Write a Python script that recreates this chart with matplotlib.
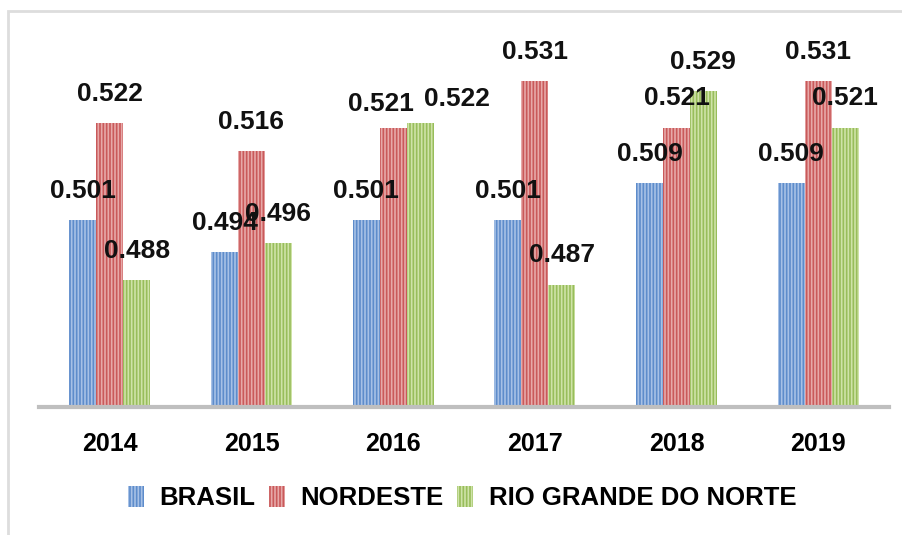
import matplotlib
matplotlib.use("Agg")
import matplotlib.pyplot as plt
import numpy as np
from matplotlib.patches import Rectangle

years = ["2014", "2015", "2016", "2017", "2018", "2019"]
brasil = [0.501, 0.494, 0.501, 0.501, 0.509, 0.509]
nordeste = [0.522, 0.516, 0.521, 0.531, 0.521, 0.531]
rn = [0.488, 0.496, 0.522, 0.487, 0.529, 0.521]
series_names = ["BRASIL", "NORDESTE", "RIO GRANDE DO NORTE"]

plt.rcParams['font.family'] = ['Liberation Sans', 'DejaVu Sans']
plt.rcParams['hatch.linewidth'] = 1.2

fig = plt.figure(figsize=(9.03, 5.35), dpi=100)
ax = fig.add_axes([39/903, 1-407/535, (889-39)/903, (407-20)/535])

base = 0.4605
x = np.arange(len(years))
w = 0.19
faces = ["#5d8ccb", "#c9595a", "#98bd5a"]
hatchc = ["#a7c1e6", "#e7a9a9", "#cfe3a8"]
data = [brasil, nordeste, rn]
# label offset tweaks (series index, year index) -> (dx, dy) in points
label_adjust = {(1, 2): (-8.6, -4), (2, 2): (26.6, -4)}
for i, (vals, name) in enumerate(zip(data, series_names)):
    heights = [v - base for v in vals]
    ax.bar(x + (i-1)*w, heights, width=w, bottom=base, color=faces[i],
           edgecolor=hatchc[i], hatch='|||||', linewidth=0, label=name)
    for j, (xi, v) in enumerate(zip(x + (i-1)*w, vals)):
        dx, dy = label_adjust.get((i, j), (0, 0))
        ax.annotate(f"{v:.3f}", (xi, v), xytext=(dx, 21 + dy), textcoords='offset points',
                    ha='center', va='center', fontsize=19, fontweight='bold', color='#111111')

ax.set_ylim(base, base + (407-20)/4618)
ax.set_xlim(-0.5, 5.5)
ax.set_xticks(x)
ax.set_xticklabels(years, fontsize=18, fontweight='bold')
ax.tick_params(axis='x', length=0, pad=18)
ax.set_yticks([])
for s in ['top', 'right', 'left']:
    ax.spines[s].set_visible(False)
ax.spines['bottom'].set_color('#bfbfbf')
ax.spines['bottom'].set_linewidth(3)

fig.legend(loc='center', bbox_to_anchor=(462/903, 1-498/535), ncol=3, frameon=False,
           prop={'size': 18.5, 'weight': 'bold'}, handlelength=0.65, handleheight=0.9,
           handletextpad=0.6, columnspacing=0.5, borderpad=0)

fig.patches.append(Rectangle((8/903, -0.01), 1.0, 1 - 11/535 + 0.01, transform=fig.transFigure,
                             fill=False, edgecolor='#dddddd', linewidth=2))

fig.savefig("out.png", dpi=100)
